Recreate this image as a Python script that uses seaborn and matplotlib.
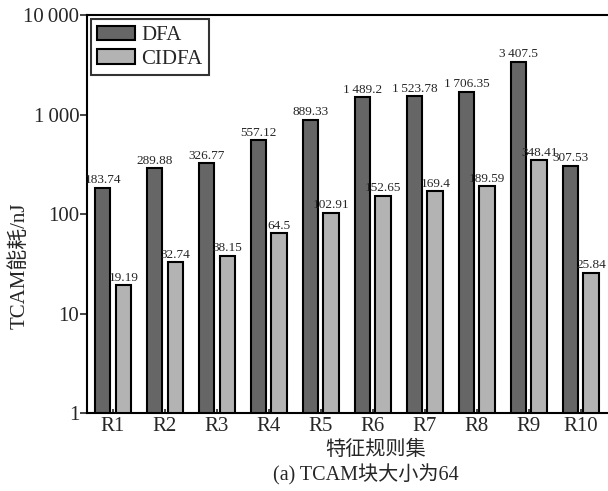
import matplotlib
matplotlib.use('Agg')
import matplotlib.pyplot as plt
import seaborn as sns
import pandas as pd

categories = ['R1', 'R2', 'R3', 'R4', 'R5', 'R6', 'R7', 'R8', 'R9', 'R10']
dfa_values = [183.74, 289.88, 326.77, 557.12, 889.33, 1489.2, 1523.78, 1706.35, 3407.5, 307.53]
cidfa_values = [19.19, 32.74, 38.15, 64.5, 102.91, 152.65, 169.4, 189.59, 348.41, 25.84]
dfa_labels = ['183.74', '289.88', '326.77', '557.12', '889.33', '1\u2009489.2',
              '1\u2009523.78', '1\u2009706.35', '3\u2009407.5', '307.53']
cidfa_labels = ['19.19', '32.74', '38.15', '64.5', '102.91', '152.65',
                '169.4', '189.59', '348.41', '25.84']
ytick_values = [1, 10, 100, 1000, 10000]
ytick_labels = ['1', '10', '100', '1\u2009000', '10\u2009000']

df = pd.DataFrame({
    'rule': categories * 2,
    'energy': dfa_values + cidfa_values,
    'algo': ['DFA'] * len(categories) + ['CIDFA'] * len(categories),
})

sns.set_style('white')
plt.rcParams['font.family'] = ['Liberation Serif', 'Noto Sans CJK SC']
plt.rcParams['axes.linewidth'] = 1.5

fig = plt.figure(figsize=(6.08, 4.91), dpi=100)
ax = fig.add_axes([0.143, 0.159, 0.855, 0.81])

sns.barplot(data=df, x='rule', y='energy', hue='algo', order=categories,
            hue_order=['DFA', 'CIDFA'], palette=['#666666', '#b3b3b3'],
            width=0.8, gap=0.25, edgecolor='black', linewidth=1.5,
            errorbar=None, ax=ax)

ax.set_yscale('log')
ax.set_ylim(1, 10000)
ax.set_xlim(-0.5, 9.5)
ax.set_yticks(ytick_values)
ax.set_yticklabels(ytick_labels, fontsize=15)
ax.minorticks_off()
ax.tick_params(axis='y', which='major', direction='out', length=5, width=1.2, left=True, pad=0.5)
ax.tick_params(axis='x', direction='in', length=3, width=1.2, bottom=True, labelsize=15, pad=3)

for cont, labs in zip(ax.containers, [dfa_labels, cidfa_labels]):
    ax.bar_label(cont, labels=labs, fontsize=9.5, padding=1)

ax.spines['right'].set_visible(False)
for s in ['top', 'left', 'bottom']:
    ax.spines[s].set_color('black')

ax.set_ylabel('TCAM能耗/nJ', fontsize=15)
ax.yaxis.set_label_coords(-0.11, 0.37)
ax.set_xlabel('特征规则集', fontsize=14.5, va='top')
ax.xaxis.set_label_coords(0.556, -0.071)
fig.text(0.602, 0.012, '(a) TCAM块大小为64', fontsize=14.5, ha='center', va='bottom')

leg = ax.legend(loc='upper left', fontsize=15, frameon=True, fancybox=False,
                edgecolor='black', borderaxespad=0.2, handlelength=1.8,
                handleheight=0.7, handletextpad=0.3, borderpad=0.3, labelspacing=0.2)
leg.get_frame().set_linewidth(1.5)
leg.set_title(None)

fig.savefig('out.png', dpi=100)
